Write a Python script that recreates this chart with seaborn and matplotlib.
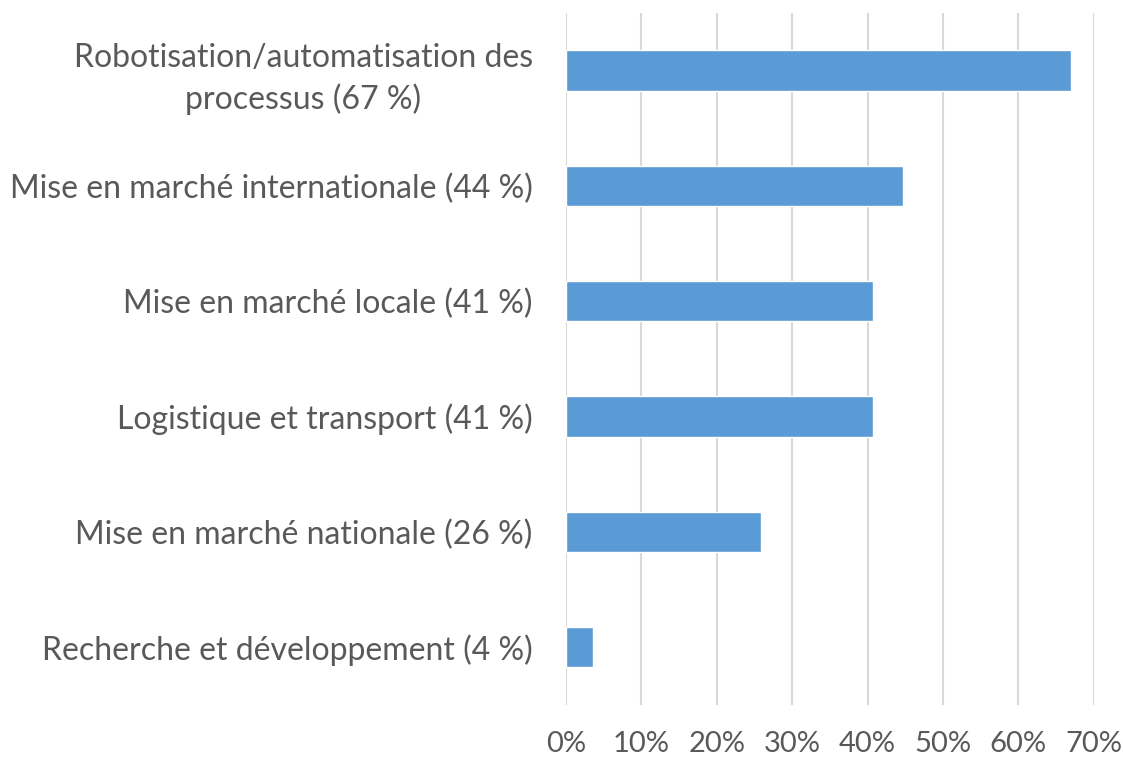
import matplotlib
matplotlib.use("Agg")
import matplotlib.pyplot as plt
import seaborn as sns
import pandas as pd

categories = [
    "Robotisation/automatisation des\nprocessus (67 %)",
    "Mise en marché internationale (44 %)",
    "Mise en marché locale (41 %)",
    "Logistique et transport (41 %)",
    "Mise en marché nationale (26 %)",
    "Recherche et développement (4 %)",
]
values = [0.67, 0.447, 0.407, 0.407, 0.259, 0.036]
xticks = [0, 0.1, 0.2, 0.3, 0.4, 0.5, 0.6, 0.7]
xticklabels = ["0%", "10%", "20%", "30%", "40%", "50%", "60%", "70%"]

sns.set_theme(style="white")
plt.rcParams["font.family"] = ["Lato", "DejaVu Sans"]

df = pd.DataFrame({"cat": categories, "val": values})
fig = plt.figure(figsize=(11.23, 7.58), dpi=100)
ax = fig.add_axes([0.504, 0.070, 0.470, 0.913])
sns.barplot(data=df, x="val", y="cat", color="#5B9BD5", width=0.35,
            saturation=1, ax=ax, zorder=3)
ax.set_xlim(0, 0.7)
ax.set_ylim(5.5, -0.5)
ax.set_xticks(xticks)
ax.set_xticklabels(xticklabels)
ax.grid(axis="x", color="#D9D9D9", linewidth=1.5, zorder=0)
ax.set_axisbelow(True)
for s in ax.spines.values():
    s.set_visible(False)
ax.set_xlabel("")
ax.set_ylabel("")
ax.tick_params(axis="x", colors="#595959", labelsize=21, length=0, pad=19)
ax.tick_params(axis="y", colors="#595959", labelsize=23, length=0, pad=24)
for t in ax.get_yticklabels():
    t.set_multialignment("center")
    t.set_linespacing(1.4)
fig.savefig("out.png", dpi=100)
